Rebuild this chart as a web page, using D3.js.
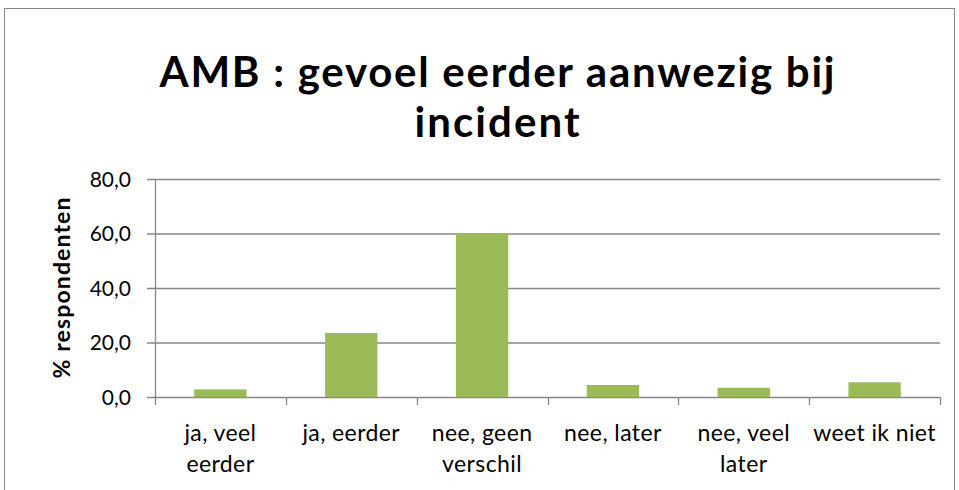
<html>
  <head>
    <meta charset="utf-8" />
    <style>
      body { margin: 0; background: #fff; }
      text { font-family: Lato, "Open Sans", sans-serif; fill: #000; }
    </style>
  </head>
  <body>
    <script src="https://d3js.org/d3.v7.min.js"></script>
    <script>
      // DATA
      const categories = [
        ["ja, veel", "eerder"],
        ["ja, eerder"],
        ["nee, geen", "verschil"],
        ["nee, later"],
        ["nee, veel", "later"],
        ["weet ik niet"],
      ];
      const values = [2.8, 23.5, 60.0, 4.4, 3.4, 5.4];
      const yTicks = [0, 20, 40, 60, 80];
      const titleLines = ["AMB : gevoel eerder aanwezig bij", "incident"];
      const yLabel = "% respondenten";

      const W = 959, H = 490;
      const mLeft = 155, mRight = 940, mTop = 179, mBottom = 397;

      const svg = d3.select("body").append("svg")
        .attr("width", W).attr("height", H);

      // chart frame
      svg.append("rect")
        .attr("x", 4.5).attr("y", 8.5)
        .attr("width", 950).attr("height", 500)
        .attr("fill", "none").attr("stroke", "#868686");

      const x = d3.scaleBand().domain(d3.range(categories.length))
        .range([mLeft, mRight]).padding(0);
      const y = d3.scaleLinear().domain([0, 80]).range([mBottom, mTop]);

      // gridlines
      svg.append("g").selectAll("line").data(yTicks).enter().append("line")
        .attr("x1", mLeft - 8).attr("x2", mRight)
        .attr("y1", d => y(d) + 0.5).attr("y2", d => y(d) + 0.5)
        .attr("stroke", "#868686").attr("stroke-width", 1.3);

      // y axis line
      svg.append("line")
        .attr("x1", mLeft + 0.5).attr("x2", mLeft + 0.5)
        .attr("y1", mTop).attr("y2", mBottom + 0.5)
        .attr("stroke", "#868686").attr("stroke-width", 1.3);

      // y tick labels
      svg.append("g").selectAll("text").data(yTicks).enter().append("text")
        .attr("x", mLeft - 24).attr("y", d => y(d) + 7.5)
        .attr("text-anchor", "end")
        .attr("font-size", 21)
        .text(d => d3.format(".1f")(d).replace(".", ","));

      // bars
      svg.append("g").selectAll("rect").data(values).enter().append("rect")
        .attr("x", (d, i) => x(i) + x.bandwidth() * 0.3)
        .attr("width", x.bandwidth() * 0.4)
        .attr("y", d => y(d))
        .attr("height", d => y(0) - y(d))
        .attr("fill", "#9bbb59");

      // x axis ticks
      const xTickPos = d3.range(categories.length + 1).map(i => mLeft + i * x.bandwidth());
      svg.append("g").selectAll("line").data(xTickPos).enter().append("line")
        .attr("x1", d => Math.round(d) + 0.5).attr("x2", d => Math.round(d) + 0.5)
        .attr("y1", mBottom).attr("y2", mBottom + 8)
        .attr("stroke", "#868686").attr("stroke-width", 1.3);

      // category labels
      const catG = svg.append("g").selectAll("text").data(categories).enter().append("text")
        .attr("x", (d, i) => x(i) + x.bandwidth() / 2)
        .attr("y", 441)
        .attr("text-anchor", "middle")
        .attr("font-size", 23)
        .attr("letter-spacing", 0.4);
      catG.selectAll("tspan").data(d => d).enter().append("tspan")
        .attr("x", function () { return d3.select(this.parentNode).attr("x"); })
        .attr("dy", (d, i) => i === 0 ? 0 : 31)
        .text(d => d);

      // y axis label
      svg.append("text")
        .attr("transform", `translate(70, ${(mTop + mBottom) / 2}) rotate(-90)`)
        .attr("text-anchor", "middle")
        .attr("font-size", 23).attr("font-weight", "bold")
        .attr("textLength", 181).attr("lengthAdjust", "spacing")
        .text(yLabel);

      // title
      const titleWidths = [675, 165];
      svg.append("g").selectAll("text").data(titleLines).enter().append("text")
        .attr("x", 497).attr("y", (d, i) => 87 + i * 50)
        .attr("text-anchor", "middle")
        .attr("font-size", 42).attr("font-weight", "bold")
        .attr("textLength", (d, i) => titleWidths[i]).attr("lengthAdjust", "spacing")
        .text(d => d);
    </script>
  </body>
</html>
